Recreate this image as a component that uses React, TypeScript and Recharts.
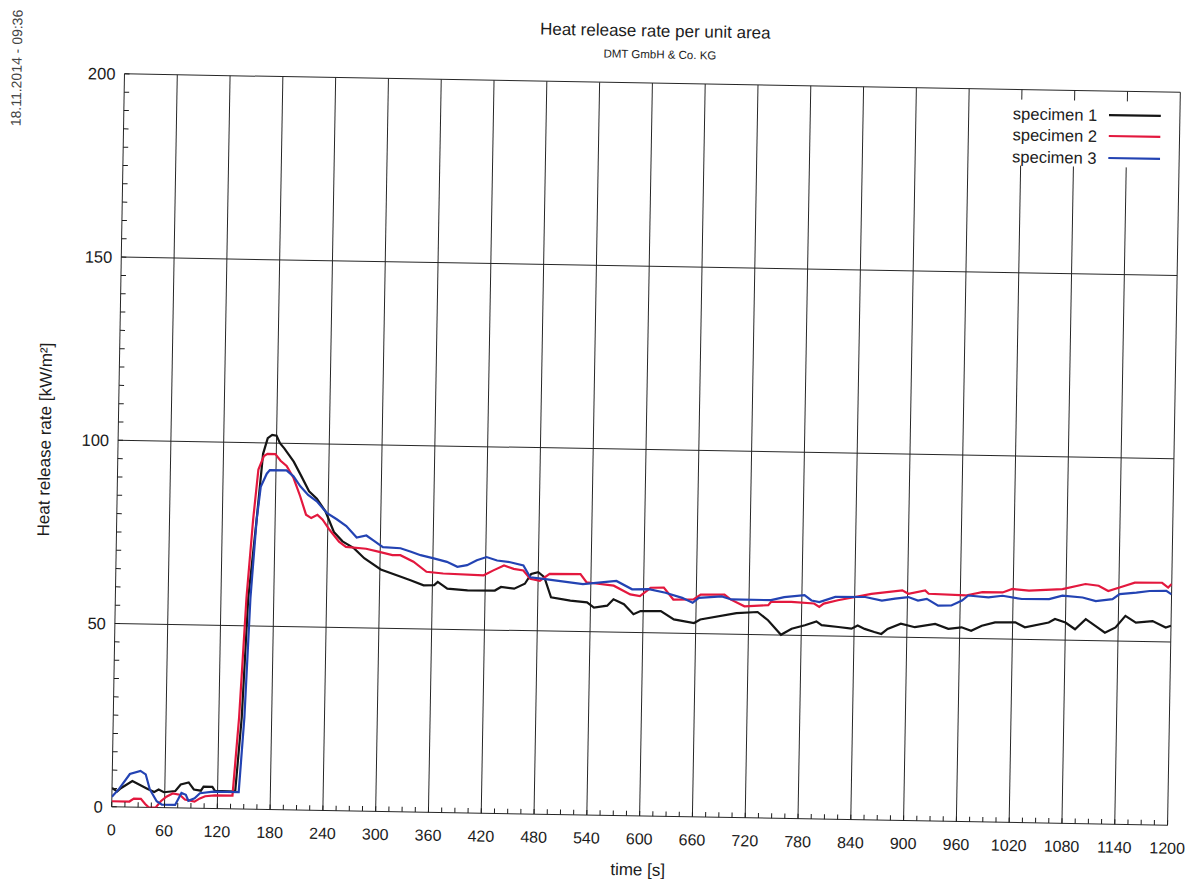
import { LineChart, Line, XAxis, YAxis, CartesianGrid, Legend } from "recharts";

// [time s, HRR kW/m²]
const specimen1: [number, number][] = [
  [0, 5.1], [6, 4.2], [10, 5.1], [23, 7.1], [29, 6.4], [40, 5.1], [48, 4.2], [53, 4.9], [59, 4.2],
  [72, 4.6], [78, 6.4], [87, 7], [93, 5.1], [101, 4.8], [104, 5.9], [114, 5.9], [117, 4.8], [140, 4.7],
  [146, 25], [151, 57.6], [159, 79], [165, 97], [170, 101.3], [175, 102.2], [180, 102], [184, 100],
  [189, 98.6], [200, 95], [208, 91.5], [218, 87], [227, 85], [237, 81.6], [247, 76], [257, 73.5],
  [270, 71.7], [282, 69], [301, 66], [324, 64.1], [335, 63.2], [350, 61.9], [362, 62], [366, 62.9],
  [377, 61.1], [400, 60.7], [431, 60.8], [438, 61.8], [453, 61.4], [465, 62.8], [472, 65.5], [480, 66],
  [487, 64.7], [495, 59.2], [517, 58.4], [536, 58], [544, 56.6], [559, 57.2], [566, 59], [578, 57.7],
  [589, 55], [597, 55.9], [620, 56], [635, 53.8], [658, 52.9], [665, 53.9], [706, 55.8], [730, 56.2],
  [742, 54], [757, 50.1], [769, 51.8], [784, 52.8], [797, 53.9], [803, 52.9], [822, 52.5], [837, 52.1],
  [844, 53], [852, 52.1], [863, 51.3], [871, 50.8], [878, 52.2], [893, 53.7], [909, 52.8], [932, 53.8],
  [947, 52.5], [962, 53], [973, 52.1], [985, 53.5], [1000, 54.5], [1023, 54.6], [1034, 53.3],
  [1061, 54.7], [1068, 55.7], [1080, 54.8], [1091, 53], [1103, 55.8], [1114, 54], [1125, 52.2],
  [1137, 53.7], [1148, 56.9], [1160, 55.1], [1179, 55.6], [1194, 53.9], [1200, 54.4],
];

const specimen2: [number, number][] = [
  [0, 1.5], [20, 1.5], [25, 2.3], [33, 2.3], [38, 0.9], [42, 0], [50, 0], [56, 1.8], [62, 3], [69, 3.9],
  [77, 3.6], [83, 2.3], [94, 1.8], [100, 2.7], [106, 3.3], [117, 3.6], [137, 3.6], [143, 25], [149, 57.6],
  [155, 79], [160, 92.7], [166, 96.4], [170, 97], [179, 97], [185, 95.2], [192, 93.8], [200, 90.6],
  [208, 85.6], [215, 80.6], [221, 79.7], [228, 80.6], [234, 79.3], [242, 76.6], [253, 73.4], [261, 72],
  [284, 71.6], [299, 70.8], [314, 70], [323, 70], [338, 68.3], [353, 65.6], [372, 65.2], [418, 64.9],
  [429, 66.3], [441, 67.7], [452, 66.8], [463, 66.4], [471, 64.2], [482, 63.7], [493, 65.6], [528, 65.7],
  [535, 63.5], [566, 62.7], [585, 60.4], [596, 60], [608, 62.3], [623, 62.4], [634, 59.2], [657, 59.3],
  [665, 60.7], [692, 60.8], [699, 59.5], [715, 57.7], [742, 58.1], [745, 59], [768, 59.1], [794, 58.8],
  [800, 57.9], [805, 58.8], [821, 59.8], [859, 61.7], [894, 62.8], [901, 61.9], [920, 62.9], [924, 62],
  [966, 61.7], [985, 62.7], [1008, 62.7], [1019, 63.7], [1038, 63.3], [1076, 63.9], [1102, 65.4],
  [1117, 65], [1128, 63.6], [1147, 65.1], [1158, 66], [1189, 66.1], [1196, 64.8], [1200, 65.8],
];

const specimen3: [number, number][] = [
  [0, 2.7], [8, 4.9], [20, 9], [32, 9.9], [38, 9], [43, 4.9], [51, 1.7], [57, 0.8], [72, 0.8], [79, 4.1],
  [84, 3.6], [87, 2], [94, 2.7], [100, 4.1], [115, 4.6], [144, 4.6], [149, 25], [153.5, 57.6], [159, 79],
  [163, 88], [169.6, 91.6], [173, 92.6], [192, 92.6], [200, 91], [208, 88.3], [217, 86], [227, 84.3],
  [238.5, 81.2], [250, 79.5], [261, 77.7], [273, 74.6], [284, 75.2], [292, 73.9], [303, 72.1], [323, 71.9],
  [335, 71], [346, 70.1], [361, 69.3], [376, 68.4], [388, 67.1], [399, 67.6], [410, 69], [421, 69.9],
  [433, 69], [448, 68.6], [463, 67.8], [471, 64.6], [486, 64.2], [516, 63.4], [531, 63], [569, 64],
  [587, 61.8], [606, 61.9], [625, 61], [644, 59.7], [656, 58.4], [663, 59.8], [689, 60.3], [700, 59.5],
  [745, 59.5], [760, 60.4], [783, 61], [791, 59.6], [800, 59.2], [818, 60.7], [852, 60.8], [871, 59.9],
  [886, 60.5], [901, 61], [912, 60.1], [922, 60.6], [935, 58.8], [950, 58.9], [962, 60.3], [969, 61.7],
  [992, 61.3], [1008, 61.8], [1030, 61], [1061, 61.1], [1076, 62.1], [1099, 61.7], [1114, 60.8],
  [1133, 61.4], [1141, 62.8], [1160, 63.3], [1175, 63.8], [1194, 63.9], [1200, 63],
];

const xMajor = [0, 60, 120, 180, 240, 300, 360, 420, 480, 540, 600, 660, 720, 780, 840, 900, 960, 1020, 1080, 1140, 1200];
const yMajor = [0, 50, 100, 150, 200];
// small inward ticks on the axes
const xMinor = Array.from({ length: 81 }, (_, i) => i * 15);
const yMinor = Array.from({ length: 41 }, (_, i) => i * 5);

const series = [
  { name: "specimen 1", color: "#151515", points: specimen1 },
  { name: "specimen 2", color: "#e3183e", points: specimen2 },
  { name: "specimen 3", color: "#2343b3", points: specimen3 },
];

const FONT = '"Liberation Sans", Arial, Helvetica, sans-serif';
const INK = "#1c1c1c";

function XTick(props: any) {
  const { x, y, payload } = props;
  const v = payload.value;
  return (
    <g>
      <line x1={x} x2={x} y1={y} y2={y - 5} stroke={INK} />
      {xMajor.includes(v) && (
        <text x={x} y={y + 23} textAnchor="middle" dominantBaseline="central"
          fontSize={16} fontFamily={FONT} fill={INK}>{v}</text>
      )}
    </g>
  );
}

function YTick(props: any) {
  const { x, y, payload } = props;
  const v = payload.value;
  return (
    <g>
      <line x1={x} x2={x + 5} y1={y} y2={y} stroke={INK} />
      {yMajor.includes(v) && (
        <text x={x - 9} y={y} textAnchor="end" dominantBaseline="central"
          fontSize={16.5} fontFamily={FONT} fill={INK}>{v}</text>
      )}
    </g>
  );
}

function LegendBox({ payload }: any) {
  return (
    <div style={{ background: "#fff", width: 174, height: 66, paddingTop: 3, boxSizing: "border-box" }}>
      {(payload || []).map((p: any) => (
        <div key={p.value} style={{ display: "flex", alignItems: "center", height: 21.5 }}>
          <span style={{ flex: "0 0 auto", width: 96, paddingLeft: 9, fontFamily: FONT, fontSize: 16.5, color: INK, lineHeight: 1 }}>
            {p.value}
          </span>
          <svg width={52} height={4} style={{ display: "block" }}>
            <line x1={0} x2={52} y1={2} y2={2} stroke={p.color} strokeWidth={2.2} />
          </svg>
        </div>
      ))}
    </div>
  );
}

const centered = (x: number, y: number, extra: any = {}) => ({
  position: "absolute" as const,
  left: x,
  top: y,
  transform: "translate(-50%, -50%)",
  whiteSpace: "nowrap" as const,
  lineHeight: 1,
  fontFamily: FONT,
  color: INK,
  ...extra,
});

export default function App() {
  return (
    <div style={{ width: 1180, height: 871, overflow: "hidden", position: "relative" }}>
      {/* the scan is turned by about one degree */}
      <div style={{ position: "relative", width: 1180, height: 871, transform: "rotate(1deg)", transformOrigin: "638px 442px" }}>
        <LineChart width={1210} height={871} margin={{ top: 75, right: 44, bottom: 23, left: 50 }}>
          <CartesianGrid stroke="#262626" strokeWidth={1} verticalValues={xMajor} horizontalValues={yMajor} />
          <XAxis
            type="number"
            dataKey="t"
            domain={[0, 1200]}
            ticks={xMinor}
            interval={0}
            height={40}
            tickSize={0}
            tickMargin={0}
            axisLine={false}
            tickLine={false}
            tick={<XTick />}
            allowDataOverflow
          />
          <YAxis
            type="number"
            domain={[0, 200]}
            ticks={yMinor}
            interval={0}
            width={60}
            tickSize={0}
            tickMargin={0}
            axisLine={false}
            tickLine={false}
            tick={<YTick />}
            allowDataOverflow
          />
          <Legend
            layout="vertical"
            align="center"
            verticalAlign="middle"
            content={<LegendBox />}
            wrapperStyle={{ left: 990, top: 85, width: 174 }}
          />
          {series.map((s) => (
            <Line
              key={s.name}
              name={s.name}
              data={s.points.map(([t, v]) => ({ t, v }))}
              dataKey="v"
              type="linear"
              stroke={s.color}
              strokeWidth={2.2}
              dot={false}
              activeDot={false}
              isAnimationActive={false}
            />
          ))}
        </LineChart>
        <div style={centered(640, 23, { fontSize: 17 })}>Heat release rate per unit area</div>
        <div style={centered(645, 47, { fontSize: 11.5 })}>DMT GmbH &amp; Co. KG</div>
        <div style={centered(1.5, 71, { fontSize: 14, color: "#444", transform: "translate(-50%, -50%) rotate(-90deg)" })}>
          18.11.2014 - 09:36
        </div>
        <div style={centered(37, 442, { fontSize: 17, transform: "translate(-50%, -50%) rotate(-90deg)" })}>
          Heat release rate [kW/m²]
        </div>
        <div style={centered(637, 862, { fontSize: 17 })}>time [s]</div>
      </div>
    </div>
  );
}
